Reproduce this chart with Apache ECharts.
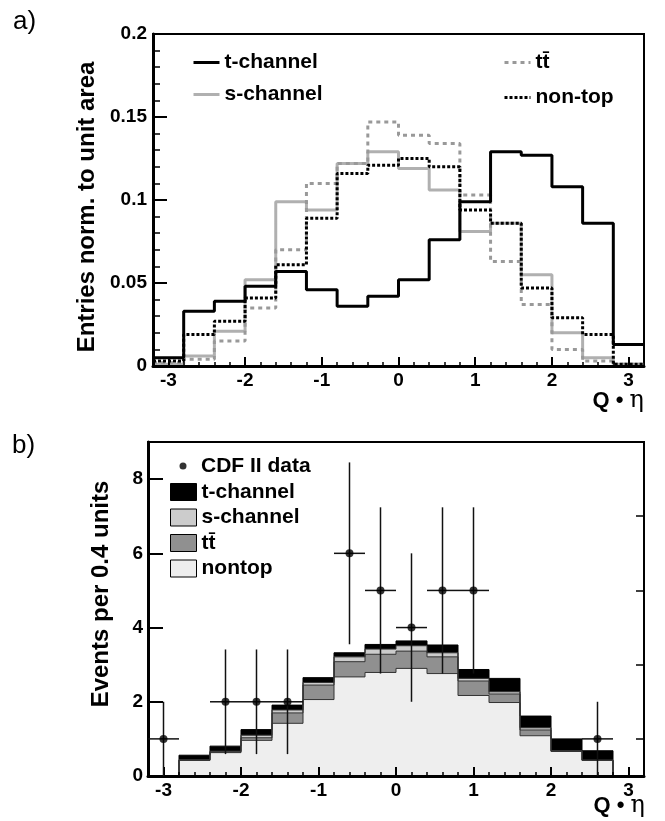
<!DOCTYPE html>
<html>
<head>
<meta charset="utf-8">
<script src="https://cdn.jsdelivr.net/npm/echarts@6/dist/echarts.min.js"></script>
<style>
  html, body { margin: 0; padding: 0; background: #fff; }
  #chart { width: 665px; height: 821px; }
</style>
</head>
<body>
<div id="chart"></div>
<script>
// bins of width 0.4 in Q*eta
const binLeft = [-3.2, -2.8, -2.4, -2.0, -1.6, -1.2, -0.8, -0.4, 0, 0.4, 0.8, 1.2, 1.6, 2.0, 2.4, 2.8];
const binRight = 3.2;
const xTickLabels = [-3, -2, -1, 0, 1, 2, 3];

// panel a) shapes, normalised to unit area
const tChannelA = [0.005, 0.033, 0.039, 0.048, 0.057, 0.046, 0.036, 0.042, 0.052, 0.076, 0.099, 0.129, 0.127, 0.108, 0.086, 0.013];
const sChannelA = [0.001, 0.006, 0.021, 0.052, 0.099, 0.094, 0.122, 0.129, 0.119, 0.106, 0.081, 0.086, 0.055, 0.020, 0.005, 0.001];
const ttbarA    = [0.002, 0.004, 0.015, 0.035, 0.070, 0.110, 0.122, 0.147, 0.139, 0.134, 0.103, 0.063, 0.037, 0.010, 0.003, 0.001];
const nonTopA   = [0.003, 0.019, 0.027, 0.041, 0.061, 0.089, 0.116, 0.121, 0.125, 0.120, 0.094, 0.086, 0.047, 0.029, 0.019, 0.001];

// panel b) expectation, events per bin (each process on its own)
const nontopB   = [0, 0.42, 0.63, 0.96, 1.42, 2.06, 2.67, 2.79, 2.90, 2.76, 2.17, 1.98, 1.085, 0.66, 0.42, 0];
const ttbarB    = [0, 0.01, 0.02, 0.07, 0.28, 0.39, 0.41, 0.49, 0.465, 0.45, 0.39, 0.23, 0.155, 0.01, 0.005, 0];
const sChannelB = [0, 0.01, 0.02, 0.07, 0.08, 0.07, 0.13, 0.14, 0.145, 0.11, 0.07, 0.06, 0.06, 0.01, 0.005, 0];
const tChannelB = [0, 0.12, 0.135, 0.15, 0.13, 0.13, 0.11, 0.125, 0.13, 0.21, 0.24, 0.36, 0.315, 0.32, 0.25, 0];

// CDF II data points
const dataX   = [-3.0, -2.2, -1.8, -1.4, -0.6, -0.2, 0.2, 0.6, 1.0, 2.6];
const dataY   = [1, 2, 2, 2, 6, 5, 4, 5, 5, 1];
const dataErr = [1, 1.41, 1.41, 1.41, 2.45, 2.24, 2, 2.24, 2.24, 1];
const dataXErr = 0.2;

const FONT = '"Liberation Sans", Arial, Helvetica, sans-serif';

function hist(vals) {
  let pts = binLeft.map((x, i) => [x, vals[i]]);
  pts.push([binRight, vals[vals.length - 1]]);
  return pts;
}
function addUp(a, b) { return a.map((v, i) => v + b[i]); }

// cumulative stack, drawn back to front like THStack
const upToTtbar = addUp(nontopB, ttbarB);
const upToS = addUp(upToTtbar, sChannelB);
const upToT = addUp(upToS, tChannelB);

let chart = echarts.init(document.getElementById('chart'));

const labelStyle = {fontFamily: FONT, fontWeight: 'bold', fontSize: 19, color: '#000'};
const legendText = {fontFamily: FONT, fontWeight: 'bold', fontSize: 21, color: '#000', lineHeight: 21};
const noSymbol = {color: 'rgba(0,0,0,0)', borderColor: 'rgba(0,0,0,0)', borderWidth: 0};

function minorX(grid) {
  return {
    gridIndex: grid, type: 'value', min: -3.2, max: 3.2, interval: 0.2, position: 'bottom', z: 5,
    axisLine: {onZero: false, lineStyle: {color: '#000', width: 3}},
    axisTick: {inside: true, length: 4, lineStyle: {color: '#000', width: 1.5}},
    axisLabel: {show: false},
    splitLine: {show: false}
  };
}
function majorX(grid) {
  return {
    gridIndex: grid, type: 'value', min: -3.2, max: 3.2, position: 'bottom', z: 5,
    axisLine: {show: false, onZero: false},
    axisTick: {inside: true, length: 9, customValues: xTickLabels, lineStyle: {color: '#000', width: 2}},
    axisLabel: Object.assign({customValues: xTickLabels, margin: 5}, labelStyle),
    splitLine: {show: false}
  };
}

function stackLayer(name, vals, fill, edge) {
  return {
    name: name, type: 'line', step: 'end', symbol: 'none', xAxisIndex: 2, yAxisIndex: 1,
    color: fill, lineStyle: {color: edge, width: 1}, areaStyle: {color: fill, opacity: 1},
    data: hist(vals)
  };
}

chart.setOption({
  animation: false,
  grid: [
    {left: 153, top: 34, width: 491, height: 332, show: true, borderColor: '#000', borderWidth: 2},
    {left: 148, top: 442, width: 496, height: 334, show: true, borderColor: '#000', borderWidth: 2}
  ],
  xAxis: [minorX(0), majorX(0), minorX(1), majorX(1)],
  yAxis: [
    {
      gridIndex: 0, type: 'value', min: 0, max: 0.2, interval: 0.05, z: 5,
      axisLine: {onZero: false, lineStyle: {color: '#000', width: 3}},
      axisTick: {inside: true, length: 14, lineStyle: {color: '#000', width: 2}},
      minorTick: {show: true, splitNumber: 5, length: 7, lineStyle: {color: '#000', width: 1.5}},
      axisLabel: Object.assign({margin: 6}, labelStyle),
      splitLine: {show: false}
    },
    {
      gridIndex: 1, type: 'value', min: 0, max: 9, z: 5,
      axisLine: {onZero: false, lineStyle: {color: '#000', width: 3}},
      axisTick: {inside: true, length: 15, customValues: [0, 2, 4, 6, 8], lineStyle: {color: '#000', width: 2}},
      axisLabel: Object.assign({customValues: [0, 2, 4, 6, 8], margin: 5}, labelStyle),
      splitLine: {show: false}
    },
    {
      gridIndex: 1, type: 'value', min: 0, max: 9, z: 5,
      axisLine: {show: false, onZero: false},
      axisTick: {inside: true, length: 8, customValues: [1, 3, 5, 7], lineStyle: {color: '#000', width: 1.5}},
      axisLabel: {show: false},
      splitLine: {show: false}
    }
  ],
  legend: [
    {
      data: ['t-channel', 's-channel'], orient: 'vertical', left: 192, top: 52, padding: 0,
      itemWidth: 26, itemHeight: 14, itemGap: 11, selectedMode: false, textStyle: legendText,
      itemStyle: noSymbol, lineStyle: {width: 3}
    },
    {
      data: ['tt\u0304', 'non-top'], orient: 'vertical', left: 503, top: 52, padding: 0,
      itemWidth: 26, itemHeight: 14, itemGap: 14, selectedMode: false, textStyle: legendText,
      itemStyle: noSymbol, lineStyle: {width: 3}
    },
    {
      data: [{name: 'CDF II data', icon: 'circle'}], left: 179.5, top: 455.5, padding: 0,
      itemWidth: 7, itemHeight: 7, selectedMode: false,
      textStyle: Object.assign({padding: [0, 0, 0, 9.5]}, legendText)
    },
    {
      data: [
        {name: 'b t-channel', icon: 'rect', itemStyle: {color: '#000', borderColor: '#000', borderWidth: 1}},
        {name: 'b s-channel', icon: 'rect', itemStyle: {color: '#cccccc', borderColor: '#000', borderWidth: 1}},
        {name: 'b tt\u0304', icon: 'rect', itemStyle: {color: '#909090', borderColor: '#000', borderWidth: 1}},
        {name: 'b nontop', icon: 'rect', itemStyle: {color: '#eeeeee', borderColor: '#000', borderWidth: 1}}
      ],
      formatter: n => n.slice(2),
      orient: 'vertical', left: 170, top: 481.5, padding: 0,
      itemWidth: 26, itemHeight: 17, itemGap: 4.5, selectedMode: false, textStyle: legendText
    }
  ],
  graphic: [
    {type: 'text', left: 13, top: 9, style: {text: 'a)', font: '26px ' + FONT, fill: '#000'}},
    {type: 'text', left: 12, top: 433, style: {text: 'b)', font: '26px ' + FONT, fill: '#000'}},
    {type: 'text', x: 87.5, y: 207, rotation: Math.PI / 2,
     style: {text: 'Entries norm. to unit area', font: 'bold 24px ' + FONT, fill: '#000', align: 'center', verticalAlign: 'middle'}},
    {type: 'text', x: 101, y: 594, rotation: Math.PI / 2,
     style: {text: 'Events per 0.4 units', font: 'bold 24px ' + FONT, fill: '#000', align: 'center', verticalAlign: 'middle'}},
    {type: 'text', x: 644, y: 413,
     style: {text: '{q|Q \u2022 }{e|\u03b7}', align: 'right', verticalAlign: 'bottom', fill: '#000',
       rich: {q: {font: 'bold 22px ' + FONT}, e: {font: '24px "DejaVu Serif", serif'}}}},
    {type: 'text', x: 645, y: 818,
     style: {text: '{q|Q \u2022 }{e|\u03b7}', align: 'right', verticalAlign: 'bottom', fill: '#000',
       rich: {q: {font: 'bold 22px ' + FONT}, e: {font: '24px "DejaVu Serif", serif'}}}}
  ],
  series: [
    // panel a
    {name: 's-channel', type: 'line', step: 'end', symbol: 'none', xAxisIndex: 0, yAxisIndex: 0,
     color: '#b0b0b0', lineStyle: {color: '#b0b0b0', width: 3}, data: hist(sChannelA)},
    {name: 'tt\u0304', type: 'line', step: 'end', symbol: 'none', xAxisIndex: 0, yAxisIndex: 0,
     color: '#999999', lineStyle: {color: '#999999', width: 3, type: [4, 4]}, data: hist(ttbarA)},
    {name: 't-channel', type: 'line', step: 'end', symbol: 'none', xAxisIndex: 0, yAxisIndex: 0,
     color: '#000', lineStyle: {color: '#000', width: 3}, data: hist(tChannelA)},
    {name: 'non-top', type: 'line', step: 'end', symbol: 'none', xAxisIndex: 0, yAxisIndex: 0,
     color: '#000', lineStyle: {color: '#000', width: 3, type: [3, 2]}, data: hist(nonTopA)},

    // panel b, cumulative layers back to front
    stackLayer('b t-channel', upToT, '#000000', '#000'),
    stackLayer('b s-channel', upToS, '#cccccc', '#333'),
    stackLayer('b tt\u0304', upToTtbar, '#909090', '#333'),
    stackLayer('b nontop', nontopB, '#eeeeee', '#333'),

    // data error bars
    {name: 'data errors', type: 'custom', xAxisIndex: 2, yAxisIndex: 1, z: 6,
     data: dataX.map((x, i) => [x, dataY[i], dataErr[i]]),
     encode: {x: 0, y: 1},
     renderItem: function (params, api) {
       let x = api.value(0), y = api.value(1), e = api.value(2);
       let top = api.coord([x, y + e]);
       let bot = api.coord([x, Math.max(0, y - e)]);
       let l = api.coord([x - dataXErr, y]);
       let r = api.coord([x + dataXErr, y]);
       let st = {stroke: '#111', lineWidth: 1.5};
       return {type: 'group', children: [
         {type: 'line', shape: {x1: top[0], y1: top[1], x2: bot[0], y2: bot[1]}, style: st},
         {type: 'line', shape: {x1: l[0], y1: l[1], x2: r[0], y2: r[1]}, style: st}
       ]};
     }},
    {name: 'CDF II data', type: 'scatter', xAxisIndex: 2, yAxisIndex: 1, z: 7,
     symbol: 'circle', symbolSize: 8, itemStyle: {color: '#000'},
     data: dataX.map((x, i) => [x, dataY[i]])}
  ]
});
</script>
</body>
</html>
